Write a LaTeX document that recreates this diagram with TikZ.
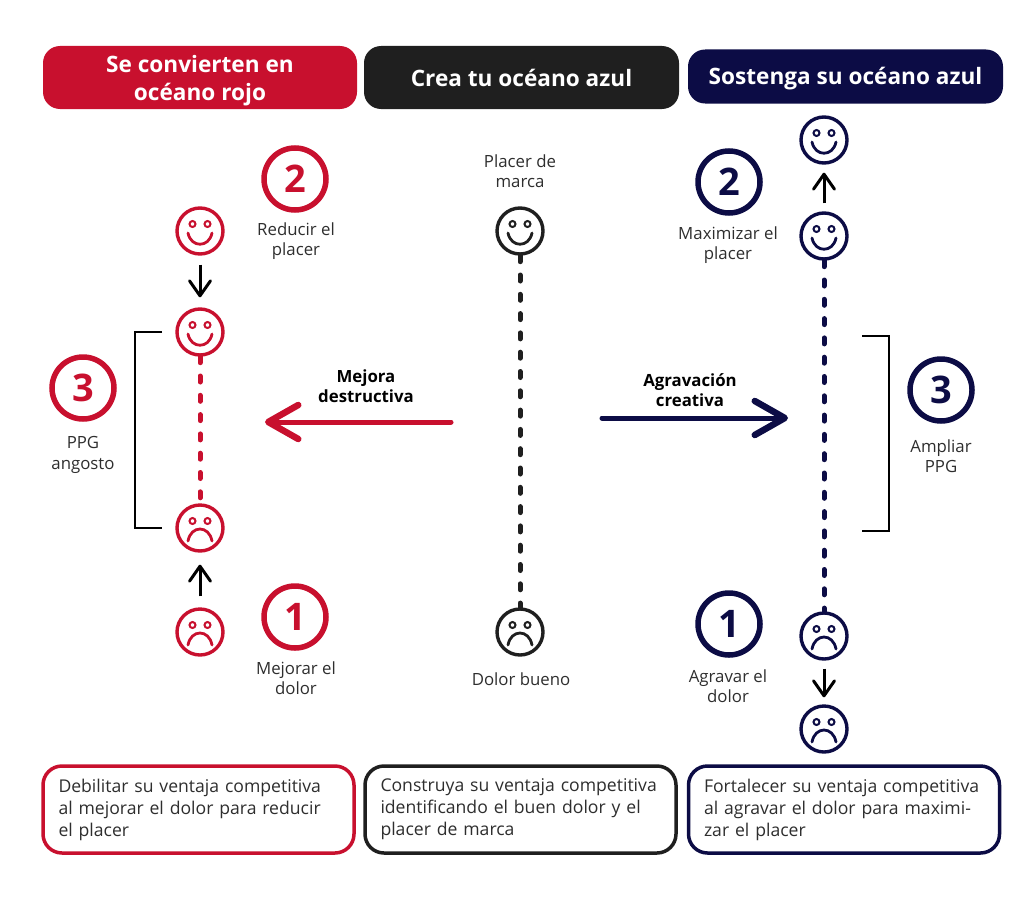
\documentclass[tikz,border=0pt]{standalone}
\usepackage{fontspec}
\setmainfont{Open Sans}
\usetikzlibrary{arrows.meta}
\definecolor{ocRed}{HTML}{C8102E}
\definecolor{ocBlack}{HTML}{1F1F1F}
\definecolor{ocNavy}{HTML}{0C0C45}
\definecolor{ocText}{HTML}{2E2E2E}
\begin{document}
\begin{tikzpicture}
      [%%%%%%%%%%%%%%%%%%%%%%%%%%%%%%
          x=1pt,y=-1pt,
          head/.style={rectangle,rounded corners=17pt,text=white,align=center,minimum width=314pt,
                       font=\fontsize{22.6}{28}\selectfont\bfseries,inner sep=0pt},
          note/.style={rectangle,draw=#1,line width=3.5pt,rounded corners=19pt,fill=white,minimum width=311pt,minimum height=87pt,
                       text width=280pt,align=left,text=ocText,font=\fontsize{17.6}{22}\selectfont,inner sep=0pt},
          num/.style={circle,draw=#1,text=#1,line width=5.5pt,minimum size=62pt,inner sep=0pt,
                      font=\fontsize{38}{40}\selectfont\bfseries},
          lab/.style={align=center,text=ocText,inner sep=0pt,font=\fontsize{16.8}{20.5}\selectfont},
          bold/.style={align=center,text=black,inner sep=0pt,font=\fontsize{16.8}{20.5}\selectfont\bfseries},
          smile/.style={circle,draw=#1,line width=3.4pt,minimum size=46pt,inner sep=0pt,
                        path picture={\begin{scope}[shift={(path picture bounding box.center)},draw=#1,line width=2pt]
                          \draw (-7.5,-7) circle (3pt) (7.5,-7) circle (3pt);
                          \draw[line width=2.8pt,line cap=round] (-12,2) .. controls (-9,17) and (9,17) .. (12,2);
                        \end{scope}}},
          sad/.style={circle,draw=#1,line width=3.4pt,minimum size=46pt,inner sep=0pt,
                      path picture={\begin{scope}[shift={(path picture bounding box.center)},draw=#1,line width=2pt]
                          \draw (-7.5,-7) circle (3pt) (7.5,-7) circle (3pt);
                          \draw[line width=2.8pt,line cap=round] (-12,13) .. controls (-9,-3) and (9,-3) .. (12,13);
                        \end{scope}}},
          dots/.style={line width=5pt,line cap=round,dash pattern=on 6pt off 13.3pt},
          small/.style={-{Straight Barb[length=15pt,width=21pt,line width=3pt,round]},line width=3pt,black},
          big/.style={-{Straight Barb[length=30pt,width=34pt,line width=6.5pt,round]},line width=5pt,line cap=round}
      ]%%%%%%%%%%%%%%%%%%%%%%%%%%%%%%

  \useasboundingbox (0,0) rectangle (1024,907);

  % headers
  \node[head,fill=ocRed,minimum height=63pt] (headRed) at (200,77.5) {\rule{0pt}{24pt}Se convierten en\\océano rojo};
  \node[head,fill=ocBlack,minimum height=63pt,minimum width=315pt] (headBlack) at (521.5,77.5) {Crea tu océano azul};
  \node[head,fill=ocNavy,minimum height=54pt,minimum width=315pt] (headNavy) at (845.5,76.5) {\rule{0pt}{21pt}Sostenga su océano azul};

  % faces
  \node[smile=ocRed] (redTop) at (200,231) {};
  \node[smile=ocRed] (redHigh) at (200,332) {};
  \node[sad=ocRed] (redLow) at (200,528) {};
  \node[sad=ocRed] (redBot) at (200,632) {};
  \node[smile=ocBlack] (blackHigh) at (520,231) {};
  \node[sad=ocBlack] (blackLow) at (520,632) {};
  \node[smile=ocNavy] (navyTop) at (824,140) {};
  \node[smile=ocNavy] (navyHigh) at (824,236) {};
  \node[sad=ocNavy] (navyLow) at (824,636) {};
  \node[sad=ocNavy] (navyBot) at (824,729) {};

  \draw[dots,ocRed] (redHigh) -- (redLow);
  \draw[dots,ocBlack] (blackHigh) -- (blackLow);
  \draw[dots,ocNavy] (navyHigh) -- (navyLow);

  \draw[small,shorten <=9pt,shorten >=10pt] (redTop) -- (redHigh);
  \draw[small,shorten <=11pt,shorten >=12pt] (redBot) -- (redLow);
  \draw[small,shorten <=8pt,shorten >=8pt] (navyHigh) -- (navyTop);
  \draw[small,shorten <=8pt,shorten >=7pt] (navyLow) -- (navyBot);

  % numbers
  \node[num=ocRed] (redTwo) at (295,179) {2};
  \node[num=ocRed] (redThree) at (83,388) {3};
  \node[num=ocRed] (redOne) at (295,617) {1};
  \node[num=ocNavy] (navyTwo) at (729,182) {2};
  \node[num=ocNavy] (navyThree) at (941,390) {3};
  \node[num=ocNavy] (navyOne) at (729,624) {1};

  % labels
  \node[lab] (labRedTwo) at (296,241) {Reducir el\\placer};
  \node[lab] (labRedThree) at (83,455) {PPG\\angosto};
  \node[lab] (labRedOne) at (296,678) {Mejorar el\\dolor};
  \node[lab] (labBlackHigh) at (520,171) {Placer de\\marca};
  \node[lab] (labBlackLow) at (521,679) {Dolor bueno};
  \node[lab] (labNavyTwo) at (728,245) {Maximizar el\\placer};
  \node[lab] (labNavyThree) at (941,456) {Ampliar\\PPG};
  \node[lab] (labNavyOne) at (728,686) {Agravar el\\dolor};

  % brackets
  \coordinate (brRa) at (162,332);
  \coordinate (brRb) at (162,528);
  \draw[line width=2.5pt,black] (brRa) -- (135,332) -- (135,528) -- (brRb);
  \coordinate (brNa) at (862,336);
  \coordinate (brNb) at (862,531);
  \draw[line width=2.5pt,black] (brNa) -- (889,336) -- (889,531) -- (brNb);

  % big arrows
  \coordinate (arRa) at (451,422);
  \coordinate (arRb) at (265,422);
  \draw[big,ocRed] (arRa) -- (arRb);
  \node[bold] (labRedArrow) at (366,386) {Mejora\\destructiva};
  \coordinate (arNa) at (602,418);
  \coordinate (arNb) at (788,418);
  \draw[big,ocNavy] (arNa) -- (arNb);
  \node[bold] (labNavyArrow) at (690,390) {Agravación\\creativa};

  % bottom
  \node[note=ocRed] (noteRed) at (198.5,809.5) {Debilitar su ventaja competitiva\\al mejorar el dolor para reducir\\el placer};
  \node[note=ocBlack] (noteBlack) at (520.5,809.5) {Construya su ventaja competitiva\\identificando el buen dolor y el\\placer de marca};
  \node[note=ocNavy] (noteNavy) at (844,809.5) {Fortalecer su ventaja competitiva\\al agravar el dolor para maximi-\\zar el placer};

  \end{tikzpicture}
\end{document}
